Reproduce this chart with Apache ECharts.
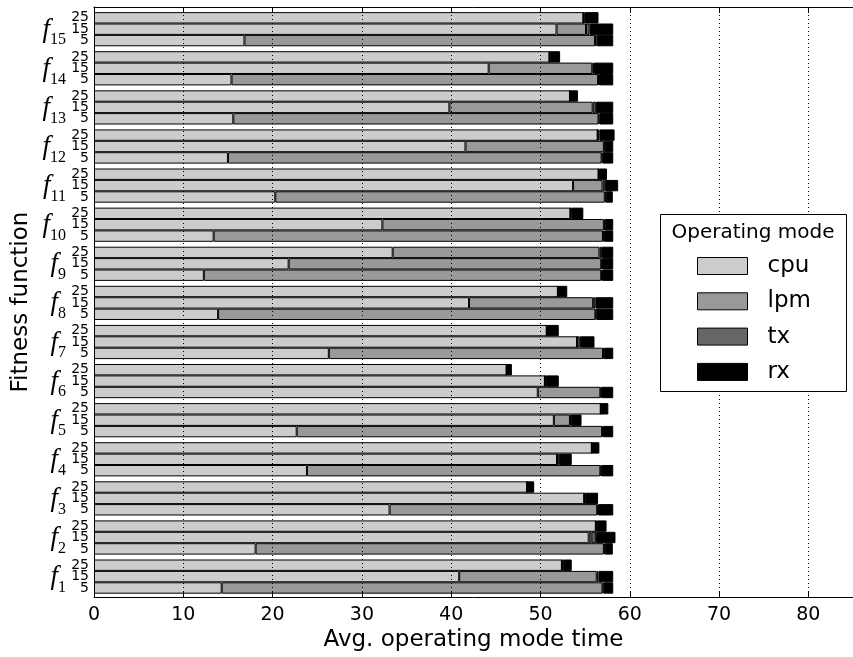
<!DOCTYPE html>
<html>
<head>
<meta charset="utf-8">
<script src="https://cdn.jsdelivr.net/npm/echarts@6/dist/echarts.min.js"></script>
<style>
  html, body { margin: 0; padding: 0; background: #fff; }
  #chart { width: 853px; height: 657px; }
</style>
</head>
<body>
<div id="chart"></div>
<script>
// Fitness functions f1..f15 (bottom to top)
const fitnessFunctions = ['1','2','3','4','5','6','7','8','9','10','11','12','13','14','15'];
const modes = ['cpu', 'lpm', 'tx', 'rx'];
const modeColors = ['#cccccc', '#999999', '#666666', '#000000'];
const xTicks = [0, 10, 20, 30, 40, 50, 60, 70, 80];

// Average time per operating mode, run length 5
const cpu5  = [14.3, 18.1, 33.1, 23.85, 22.7, 49.7, 26.3, 13.9, 12.3, 13.4, 20.3, 15.0, 15.6, 15.4, 16.85];
const lpm5  = [42.65, 39.0, 23.25, 32.85, 34.2, 7.0, 30.7, 42.25, 44.5, 43.6, 36.9, 41.85, 40.9, 41.05, 39.25];
const tx5   = [0.1, 0.1, 0.1, 0.1, 0.1, 0.1, 0.1, 0.1, 0.1, 0.1, 0.1, 0.1, 0.1, 0.1, 0.2];
const rx5   = [1.1, 0.9, 1.7, 1.35, 1.15, 1.35, 1.05, 1.9, 1.25, 1.05, 0.8, 1.2, 1.55, 1.6, 1.85];

// Run length 15
const cpu15 = [40.9, 55.4, 54.9, 51.85, 51.5, 50.5, 54.1, 42.0, 21.8, 32.3, 53.65, 41.6, 39.8, 44.2, 51.8];
const lpm15 = [15.4, 0.3, 0, 0, 1.8, 0, 0, 13.9, 35.0, 24.8, 3.3, 15.5, 16.05, 11.6, 3.3];
const tx15  = [0.2, 0.5, 0.1, 0.2, 0.1, 0.1, 0.3, 0.25, 0.1, 0.1, 0.25, 0.1, 0.35, 0.2, 0.4];
const rx15  = [1.65, 2.2, 1.45, 1.45, 1.2, 1.45, 1.65, 2.0, 1.25, 0.95, 1.5, 0.95, 1.95, 2.15, 2.65];

// Run length 25
const cpu25 = [52.4, 56.2, 48.5, 55.75, 56.75, 46.2, 50.7, 51.95, 33.45, 53.35, 56.5, 56.4, 53.3, 51.0, 54.8];
const lpm25 = [0, 0, 0, 0, 0, 0, 0, 0, 23.15, 0, 0, 0, 0, 0, 0];
const tx25  = [0.1, 0.1, 0.05, 0.05, 0.05, 0.05, 0.05, 0.05, 0.2, 0.1, 0.05, 0.2, 0.05, 0.05, 0.1];
const rx25  = [1.0, 1.1, 0.75, 0.8, 0.8, 0.55, 1.3, 1.0, 1.35, 1.35, 0.9, 1.7, 0.85, 1.15, 1.6];

// Within each function band the stacks are laid out top to bottom: 25, 15, 5
const runs = [
  { label: '25', values: [cpu25, lpm25, tx25, rx25] },
  { label: '15', values: [cpu15, lpm15, tx15, rx15] },
  { label: '5',  values: [cpu5, lpm5, tx5, rx5] }
];

const FONT = 'DejaVu Sans';
const chart = echarts.init(document.getElementById('chart'), null, { renderer: 'canvas' });

const series = [];
runs.forEach(run => {
  modes.forEach((mode, m) => {
    series.push({
      type: 'bar',
      name: mode,
      stack: 'run' + run.label,
      xAxisIndex: 0,
      yAxisIndex: 0,
      barGap: 0,
      barCategoryGap: '12.6%',
      z: 2,
      itemStyle: { color: modeColors[m], borderColor: '#000', borderWidth: 1 },
      label: m === 0 ? {
        show: true,
        position: 'left',
        distance: 5,
        formatter: () => run.label,
        fontFamily: FONT,
        fontSize: 14,
        color: '#000'
      } : { show: false },
      emphasis: { disabled: true },
      data: run.values[m]
    });
  });
});

const option = {
  animation: false,
  backgroundColor: '#fff',
  grid: [
    { left: 94, right: -6, top: 9.65, bottom: 60.85 },
    { left: 94, right: -6, top: 7, bottom: 58 }
  ],
  xAxis: [
    { gridIndex: 0, type: 'value', min: 0, max: 85, show: false },
    {
      gridIndex: 1, type: 'value', min: 0, max: 85, interval: 10, position: 'bottom', z: 5,
      axisLine: { show: true, lineStyle: { color: '#000', width: 1 } },
      axisTick: { show: true, inside: true, length: 6, lineStyle: { color: '#000', width: 1 } },
      axisLabel: {
        fontFamily: FONT, fontSize: 19, color: '#000', margin: 8, showMaxLabel: false,
        formatter: v => (xTicks.indexOf(v) >= 0 ? String(v) : '')
      },
      splitLine: { show: true, lineStyle: { color: '#000', width: 1, type: [1, 3] } },
      name: 'Avg. operating mode time',
      nameLocation: 'middle',
      nameGap: 26,
      nameTextStyle: { fontFamily: FONT, fontSize: 23, color: '#000' }
    },
    {
      gridIndex: 1, type: 'value', min: 0, max: 85, interval: 10, position: 'top', z: 5,
      axisLine: { show: true, lineStyle: { color: '#000', width: 1 } },
      axisTick: { show: true, inside: true, length: 6, lineStyle: { color: '#000', width: 1 } },
      axisLabel: { show: false },
      splitLine: { show: false }
    }
  ],
  yAxis: [
    {
      gridIndex: 0, type: 'category', data: fitnessFunctions,
      axisLine: { show: false }, axisTick: { show: false },
      axisLabel: {
        margin: 28,
        formatter: v => '{f|f}{s|' + v + '}',
        rich: {
          f: { fontFamily: 'Liberation Serif', fontStyle: 'italic', fontSize: 27, lineHeight: 26,
               padding: [0, 0, 12, 0], verticalAlign: 'top', color: '#000' },
          s: { fontFamily: 'Liberation Serif', fontSize: 16, lineHeight: 16,
               padding: [16, 0, 0, 0], verticalAlign: 'top', color: '#000' }
        }
      }
    },
    {
      gridIndex: 1, type: 'value', min: 0, max: 1, z: 5,
      axisLine: { show: true, lineStyle: { color: '#000', width: 1 } },
      axisTick: { show: false }, axisLabel: { show: false }, splitLine: { show: false },
      name: 'Fitness function',
      nameLocation: 'middle',
      nameGap: 61,
      nameTextStyle: { fontFamily: FONT, fontSize: 23, color: '#000' }
    }
  ],
  legend: {
    orient: 'vertical',
    left: 697, top: 254.5,
    padding: 0,
    itemWidth: 50, itemHeight: 17, itemGap: 12.3,
    icon: 'rect',
    selectedMode: false,
    z: 60,
    data: modes,
    itemStyle: { borderColor: '#000', borderWidth: 1 },
    textStyle: { fontFamily: FONT, fontSize: 23, color: '#000', padding: [0, 0, 0, 15] }
  },
  graphic: [
    {
      type: 'rect', z: 50,
      shape: { x: 660.5, y: 214.5, width: 186, height: 177 },
      style: { fill: '#fff', stroke: '#000', lineWidth: 1 }
    },
    {
      type: 'text', z: 51,
      x: 753, y: 233,
      style: { text: 'Operating mode', font: '20px "DejaVu Sans"', fill: '#000', align: 'center', verticalAlign: 'middle' }
    }
  ],
  series: series
};

chart.setOption(option);
</script>
</body>
</html>
